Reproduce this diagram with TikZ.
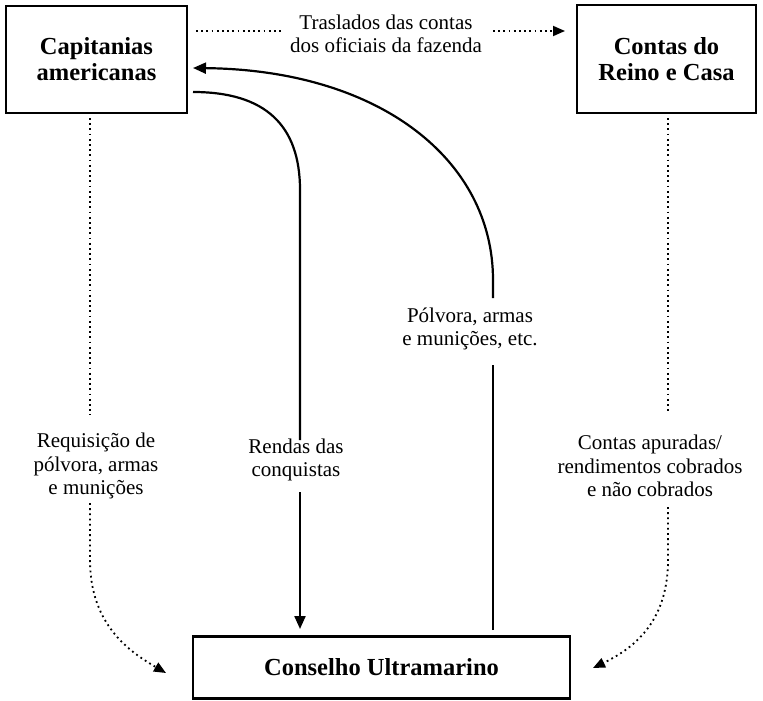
\documentclass[tikz,border=0pt]{standalone}
\usepackage{fontspec}
\setmainfont{Liberation Serif}
\usetikzlibrary{arrows.meta}
\begin{document}
\begin{tikzpicture}[x=1pt,y=-1pt,
  box/.style={draw, line width=2.8pt, inner sep=0pt, font=\fontsize{24.5}{26}\selectfont\bfseries, align=center},
  lbl/.style={font=\fontsize{21}{23.5}\selectfont, align=center, inner sep=0pt},
  solidline/.style={line width=2.2pt},
  solidarrow/.style={solidline, -{Triangle[length=13pt,width=11pt]}},
  dotline/.style={line width=1.8pt, dash pattern=on 1.8pt off 3.4pt},
  dotarrow/.style={dotline, -{Triangle[length=12pt,width=10pt]}},
]
\useasboundingbox (0,0) rectangle (763,701);
% boxes
\node[box, minimum width=181pt, minimum height=107pt] (cap) at (96.5,59.5) {Capitanias\\americanas};
\node[box, minimum width=179pt, minimum height=108pt] (reino) at (666.5,59) {Contas do\\Reino e Casa};
\node[box, minimum width=377pt, minimum height=62pt] (cons) at (381.5,667.5) {Conselho Ultramarino};
% labels
\node[lbl] (tras) at (386,34) {Traslados das contas\\dos oficiais da fazenda};
\node[lbl] (req) at (96,466) {Requisição de\\pólvora, armas\\e munições};
\node[lbl] (rend) at (296,460) {Rendas das\\conquistas};
\node[lbl] (polv) at (470,329) {Pólvora, armas\\e munições, etc.};
\node[lbl] (apur) at (650,466) {Contas apuradas/\\rendimentos cobrados\\e não cobrados};
% free-end coordinates
\coordinate (t1) at (196,31);
\coordinate (t2) at (283,31);
\coordinate (t3) at (493,31);
\coordinate (t4) at (565,31);
\coordinate (l1) at (90,118);
\coordinate (l2) at (90,415);
\coordinate (l3) at (90,503);
\coordinate (l4) at (166,673);
\coordinate (r1) at (668,118);
\coordinate (r2) at (668,413);
\coordinate (r3) at (668,507);
\coordinate (r4) at (593,668);
\coordinate (c1) at (193,92);
\coordinate (c2) at (300,440);
\coordinate (c3) at (300,492);
\coordinate (c4) at (300,629);
\coordinate (p1) at (493,630);
\coordinate (p2) at (493,365);
\coordinate (p3) at (493,298);
\coordinate (p4) at (193,68);
% top dotted connector
\draw[dotline] (t1) -- (t2);
\draw[dotarrow] (t3) -- (t4);
% left dotted connector
\draw[dotline] (l1) -- (l2);
\draw[dotarrow] (l3) -- (90,560) .. controls (90,625) and (130,652) .. (l4);
% right dotted connector
\draw[dotline] (r1) -- (r2);
\draw[dotarrow] (r3) -- (668,560) .. controls (668,625) and (630,650) .. (r4);
% Rendas das conquistas
\draw[solidline] (c1) .. controls (265,92) and (300,125) .. (300,190) -- (c2);
\draw[solidarrow] (c3) -- (c4);
% Polvora, armas
\draw[solidline] (p1) -- (p2);
\draw[solidarrow] (p3) -- (493,280) .. controls (493,160) and (380,70) .. (p4);
\end{tikzpicture}
\end{document}
